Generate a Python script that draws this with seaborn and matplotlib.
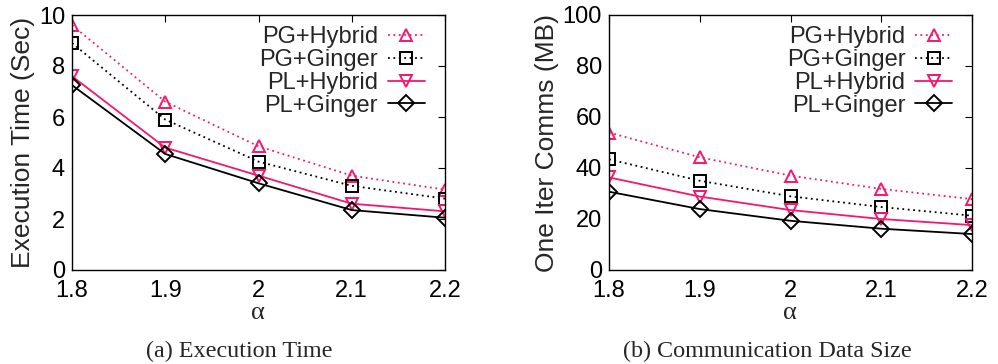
import matplotlib
matplotlib.use("Agg")
import matplotlib.pyplot as plt
import seaborn as sns
import pandas as pd

alpha = [1.8, 1.9, 2.0, 2.1, 2.2]
alpha_labels = ["1.8", "1.9", "2", "2.1", "2.2"]
series = ["PG+Hybrid", "PG+Ginger", "PL+Hybrid", "PL+Ginger"]

exec_pg_hybrid = [9.6, 6.6, 4.85, 3.7, 3.15]
exec_pg_ginger = [8.9, 5.9, 4.25, 3.3, 2.8]
exec_pl_hybrid = [7.6, 4.8, 3.7, 2.6, 2.3]
exec_pl_ginger = [7.25, 4.55, 3.4, 2.35, 2.05]

comm_pg_hybrid = [53.9, 44.2, 37.0, 31.8, 27.8]
comm_pg_ginger = [43.4, 35.0, 28.9, 24.7, 21.3]
comm_pl_hybrid = [36.3, 28.8, 23.5, 20.0, 17.6]
comm_pl_ginger = [30.7, 23.9, 19.3, 16.2, 14.1]

PINK = "#f5176e"
styles = {
    "PG+Hybrid": dict(color=PINK, ls=(0, (1, 2)), marker="^"),
    "PG+Ginger": dict(color="black", ls=(0, (1, 2)), marker="s"),
    "PL+Hybrid": dict(color=PINK, ls="-", marker="v"),
    "PL+Ginger": dict(color="black", ls="-", marker="D"),
}

def make_df(vals):
    rows = []
    for name, v in zip(series, vals):
        for a, y in zip(alpha, v):
            rows.append({"alpha": a, "value": y, "series": name})
    return pd.DataFrame(rows)

df_exec = make_df([exec_pg_hybrid, exec_pg_ginger, exec_pl_hybrid, exec_pl_ginger])
df_comm = make_df([comm_pg_hybrid, comm_pg_ginger, comm_pl_hybrid, comm_pl_ginger])

sns.set_theme(style="white")
plt.rcParams["font.family"] = ["Liberation Sans", "DejaVu Sans"]
SERIF = ["Liberation Serif", "DejaVu Serif"]

fig = plt.figure(figsize=(9.98, 3.64), dpi=100)
W, H = 998, 364
ax1 = fig.add_axes([72 / W, (H - 270) / H, (445 - 72) / W, 255 / H])
ax2 = fig.add_axes([609 / W, (H - 270) / H, (972 - 609) / W, 255 / H])

def draw(ax, df, ylim, yticks, ylabel, caption, ax_cx, cap_cx):
    for name in series:
        st = styles[name]
        sub = df[df["series"] == name]
        sns.lineplot(data=sub, x="alpha", y="value", ax=ax, color=st["color"],
                     linestyle=st["ls"], marker=st["marker"],
                     markersize=9 if st["marker"] != "D" else 8,
                     markerfacecolor="none", markeredgecolor=st["color"], markeredgewidth=1.4,
                     linewidth=1.3, label=name, errorbar=None)
    ax.set_xlim(1.8, 2.2)
    ax.set_ylim(*ylim)
    ax.set_xticks(alpha)
    ax.set_xticklabels(alpha_labels)
    ax.set_yticks(yticks)
    ax.tick_params(axis="both", direction="in", length=5, width=0.8, labelsize=17,
                   top=True, right=True, colors="black")
    ax.tick_params(axis="x", pad=7)
    ax.tick_params(axis="y", pad=5)
    for s in ax.spines.values():
        s.set_color("black")
        s.set_linewidth(1.0)
    ax.set_ylabel(ylabel, fontsize=19, labelpad=3)
    ax.set_xlabel("")
    fig.text(ax_cx / W, 1 - 313 / H, "α", ha="center", va="center", fontsize=19, family=SERIF)
    ax.legend(loc="upper right", frameon=False, markerfirst=False, fontsize=17,
              handlelength=1.57, handletextpad=0.42, labelspacing=0.03,
              borderaxespad=0, borderpad=0, bbox_to_anchor=(0.946, 0.955))
    fig.text(cap_cx / W, 1 - 351 / H, caption, ha="center", va="center",
             fontsize=17.4, family=SERIF)

draw(ax1, df_exec, (0, 10), [0, 2, 4, 6, 8, 10], "Execution Time (Sec)", "(a) Execution Time", 258, 239)
draw(ax2, df_comm, (0, 100), [0, 20, 40, 60, 80, 100], "One Iter Comms (MB)", "(b) Communication Data Size", 790, 767)

fig.savefig("out.png", dpi=100)
